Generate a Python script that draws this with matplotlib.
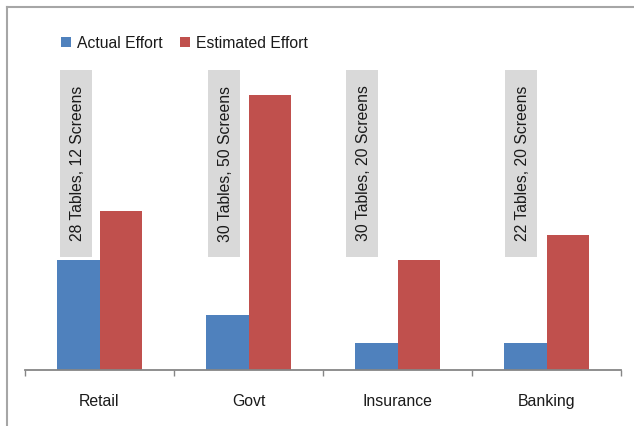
import numpy as np
import matplotlib.pyplot as plt
from matplotlib.patches import Rectangle
from matplotlib.lines import Line2D

plt.rcParams['font.family'] = ['Liberation Sans', 'DejaVu Sans']

# data
categories = ['Retail', 'Govt', 'Insurance', 'Banking']
actual_effort = [40, 20, 10, 10]
estimated_effort = [58, 100, 40, 49]
size_labels = ['28 Tables, 12 Screens', '30 Tables, 50 Screens',
               '30 Tables, 20 Screens', '22 Tables, 20 Screens']

blue = '#4F81BD'
red = '#C0504D'

W, H = 634, 426
fig = plt.figure(figsize=(W / 100, H / 100), dpi=100)

# plot area in pixels
left_px, right_px, base_px = 25, 621, 370
px_per_unit = 2.75
ymax = 125
top_px = base_px - ymax * px_per_unit
ax = fig.add_axes([left_px / W, 1 - base_px / H,
                   (right_px - left_px) / W, (base_px - top_px) / H])

x = np.arange(len(categories))
bw = 0.282
ax.bar(x - bw / 2, actual_effort, bw, color=blue, label='Actual Effort', zorder=2)
ax.bar(x + bw / 2, estimated_effort, bw, color=red, label='Estimated Effort', zorder=2)

ax.set_xlim(-0.5, len(categories) - 0.5)
ax.set_ylim(0, ymax)

# grey label boxes with rotated text
offsets = [-0.16, -0.165, -0.235, -0.17]
box_w = 32 / 149
box_y0 = (base_px - 257) / px_per_unit
box_y1 = (base_px - 70) / px_per_unit
for xi, off, lab in zip(x, offsets, size_labels):
    cx = xi + off
    ax.add_patch(Rectangle((cx - box_w / 2, box_y0), box_w, box_y1 - box_y0,
                           facecolor='#D9D9D9', edgecolor='none', zorder=3))
    ax.text(cx + 0.01, (box_y0 + box_y1) / 2, lab, rotation=90, ha='center', va='center',
            fontsize=11.3, color='#1a1a1a', zorder=4)

# axes styling
for s in ['left', 'right', 'top']:
    ax.spines[s].set_visible(False)
ax.spines['bottom'].set_color('#868686')
ax.spines['bottom'].set_linewidth(1.3)
ax.set_yticks([])
ax.set_xticks(np.arange(-0.5, len(categories)), labels=[''] * (len(categories) + 1))
ax.tick_params(axis='x', which='major', length=4, width=1, color='#868686', direction='out')
ax.set_xticks(x, labels=categories, minor=True)
ax.tick_params(axis='x', which='minor', length=0, pad=17, labelsize=11.4, labelcolor='#1a1a1a')

# legend
leg = ax.legend(loc='center left', bbox_to_anchor=(61 / W, 1 - 43 / H),
                bbox_transform=fig.transFigure, ncol=2, frameon=False,
                fontsize=11.3, handlelength=0.65, handleheight=0.65,
                handletextpad=0.4, columnspacing=1.05, borderpad=0, borderaxespad=0)
for t in leg.get_texts():
    t.set_color('#1a1a1a')

# outer chart border (left and top visible)
border = '#A6A6A6'
fig.add_artist(Line2D([7 / W, 7 / W], [0, 1 - 7 / H], color=border, lw=1.5,
                      transform=fig.transFigure))
fig.add_artist(Line2D([7 / W, 1], [1 - 7 / H, 1 - 7 / H], color=border, lw=1.5,
                      transform=fig.transFigure))

fig.savefig('out.png', dpi=100)
